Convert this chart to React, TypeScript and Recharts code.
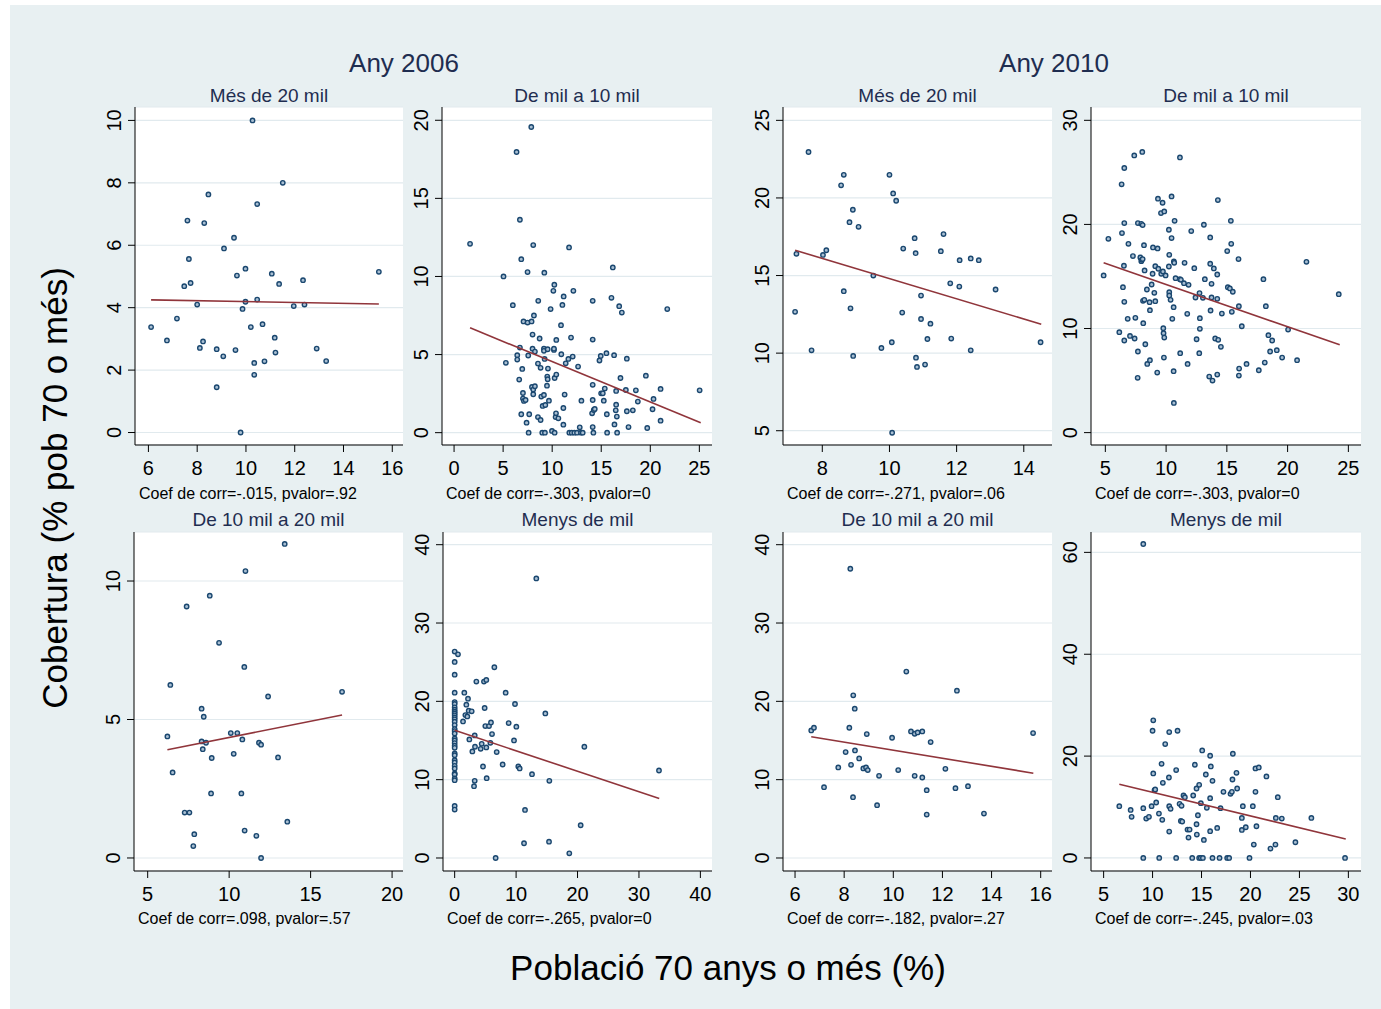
import React from 'react';
import { ScatterChart, Scatter, XAxis, YAxis, CartesianGrid } from 'recharts';

type Pt = [number, number];

// Any 2006 — municipis de més de 20 mil habitants
const pts2006Mes20: Pt[] = [
  [6.11, 3.38], [6.76, 2.95], [7.17, 3.65], [7.47, 4.69], [7.6, 6.79], [7.66, 5.56], [7.73, 4.79],
  [8.0, 4.1], [8.11, 2.71], [8.24, 2.92], [8.29, 6.71], [8.46, 7.63], [8.8, 1.45], [8.8, 2.67],
  [9.07, 2.44], [9.1, 5.9], [9.51, 6.24], [9.57, 2.64], [9.63, 5.03], [9.78, 0], [9.86, 3.96],
  [9.98, 5.25], [9.98, 4.19], [10.2, 3.38], [10.27, 10], [10.34, 2.23], [10.34, 1.85], [10.46, 7.32],
  [10.46, 4.26], [10.68, 3.47], [10.76, 2.28], [11.06, 5.09], [11.18, 3.04], [11.21, 2.56],
  [11.36, 4.76], [11.51, 8.0], [11.96, 4.05], [12.34, 4.88], [12.4, 4.1], [12.9, 2.69], [13.29, 2.29],
  [15.45, 5.15],
];
const fit2006Mes20: Pt[] = [[6.11, 4.25], [15.45, 4.12]];

// Any 2006 — de mil a 10 mil
const pts2006Mil10: Pt[] = [
  [1.63, 12.09], [5.04, 10.0], [5.28, 4.47], [5.99, 8.16], [6.37, 17.97], [6.44, 4.96], [6.44, 4.68],
  [6.64, 3.4], [6.71, 13.63], [6.71, 5.45], [6.85, 11.11], [6.85, 1.18], [6.95, 4.08], [7.02, 2.54],
  [7.02, 2.18], [7.12, 2.03], [7.29, 2.09], [7.08, 7.12], [7.39, 0.64], [7.49, 10.28], [7.49, 7.05],
  [7.56, 4.94], [7.6, 0], [7.66, 1.18], [7.9, 7.12], [7.87, 19.57], [7.94, 2.93], [8.0, 5.38],
  [8.07, 12.01], [8.0, 6.28], [8.07, 2.46], [8.07, 2.76], [8.14, 7.5], [8.24, 2.97], [8.24, 5.19],
  [8.55, 1.0], [8.58, 8.44], [8.55, 4.42], [8.72, 6.03], [8.82, 4.15], [8.82, 0.81], [8.89, 2.31],
  [8.99, 0], [9.03, 1.71], [9.16, 2.41], [9.16, 5.38], [9.16, 5.24], [9.2, 10.24], [9.23, 4.72],
  [9.26, 0], [9.3, 1.77], [9.47, 3.01], [9.54, 5.34], [9.5, 3.59], [9.54, 3.42], [9.57, 4.1],
  [9.67, 2.05], [9.84, 7.91], [9.98, 0.11], [10.12, 9.08], [10.18, 5.3], [10.18, 5.38], [10.22, 9.47],
  [10.25, 0], [10.25, 3.5], [10.35, 1.0], [10.42, 3.72], [10.42, 5.94], [10.39, 1.24], [10.63, 0.92],
  [10.9, 6.88], [10.93, 5.02], [11.04, 8.18], [11.14, 1.58], [11.17, 8.72], [11.14, 0.51], [11.27, 2.44],
  [11.38, 4.44], [11.65, 4.72], [11.72, 11.86], [11.75, 0], [11.92, 6.09], [12.09, 4.87], [11.99, 0],
  [12.16, 9.08], [12.26, 0], [12.53, 0], [12.64, 4.23], [12.81, 0.34], [12.94, 0], [12.98, 2.05],
  [13.11, 0], [14.13, 8.44], [14.13, 5.96], [14.13, 3.06], [14.13, 2.09], [14.07, 1.24], [14.24, 1.45],
  [14.13, 0.36], [14.2, 0], [14.34, 1.52], [14.99, 2.52], [15.16, 2.52], [14.82, 4.62], [14.95, 4.91],
  [15.26, 2.05], [15.36, 2.82], [15.53, 5.09], [15.57, 1.18], [15.6, 0], [16.04, 8.63], [16.18, 10.58],
  [16.31, 4.96], [16.35, 0.53], [16.48, 1.43], [16.52, 2.67], [16.52, 1.79], [16.59, 1.03], [16.62, 0],
  [16.83, 8.1], [16.96, 3.5], [17.1, 7.69], [17.51, 2.73], [17.61, 1.37], [17.61, 4.74], [17.78, 0.36],
  [18.22, 1.43], [18.53, 2.71], [18.73, 1.99], [19.55, 3.65], [19.69, 0.3], [20.23, 1.5], [20.33, 2.16],
  [21.05, 2.8], [21.05, 0.77], [21.73, 7.91], [25.03, 2.71],
];
const fit2006Mil10: Pt[] = [[1.63, 6.71], [25.14, 0.64]];

// Any 2010 — més de 20 mil
const pts2010Mes20: Pt[] = [
  [7.19, 12.66], [7.23, 16.4], [7.59, 22.96], [7.68, 10.18], [8.02, 16.33], [8.12, 16.63], [8.56, 20.81],
  [8.64, 21.49], [8.64, 13.99], [8.81, 18.44], [8.84, 12.89], [8.91, 19.24], [8.92, 9.82], [9.08, 18.14],
  [9.52, 15.0], [9.76, 10.33], [10.0, 21.49], [10.07, 10.7], [10.08, 4.87], [10.11, 20.29], [10.2, 19.82],
  [10.38, 12.61], [10.41, 16.74], [10.75, 17.41], [10.78, 16.44], [10.79, 9.71], [10.82, 9.11],
  [10.94, 13.71], [10.94, 12.2], [11.06, 9.26], [11.13, 10.91], [11.22, 11.9], [11.53, 16.57],
  [11.61, 17.67], [11.81, 14.5], [11.84, 10.94], [12.08, 14.29], [12.09, 15.99], [12.42, 16.1],
  [12.42, 10.18], [12.66, 15.99], [13.16, 14.1], [14.5, 10.7],
];
const fit2010Mes20: Pt[] = [[7.19, 16.63], [14.52, 11.86]];

// Any 2010 — de mil a 10 mil
const pts2010Mil10: Pt[] = [
  [4.86, 15.1], [5.25, 18.62], [6.15, 9.65], [6.34, 23.85], [6.37, 19.17], [6.45, 13.97], [6.53, 16.03],
  [6.56, 25.42], [6.56, 20.13], [6.56, 12.56], [6.56, 8.85], [6.84, 10.93], [6.9, 18.14], [7.03, 9.29],
  [7.27, 16.96], [7.38, 26.63], [7.41, 9.04], [7.47, 11.03], [7.66, 5.26], [7.68, 7.79], [7.68, 20.13],
  [7.88, 16.83], [7.96, 20.06], [7.96, 16.47], [7.99, 16.6], [8.04, 26.96], [8.07, 19.94], [8.07, 16.67],
  [8.1, 12.66], [8.12, 10.51], [8.18, 18.01], [8.21, 12.76], [8.23, 15.58], [8.29, 8.49], [8.42, 13.75],
  [8.45, 6.6], [8.64, 12.53], [8.67, 6.96], [8.67, 11.76], [8.81, 14.23], [8.89, 15.26], [8.92, 17.79],
  [9.03, 13.43], [9.11, 15.99], [9.11, 12.63], [9.27, 5.77], [9.3, 17.69], [9.36, 15.74], [9.33, 22.47],
  [9.58, 21.09], [9.6, 15.26], [9.71, 22.08], [9.74, 15.48], [9.77, 10.03], [9.79, 9.55], [9.82, 7.21],
  [9.85, 21.25], [9.85, 9.13], [9.96, 15.1], [10.23, 19.49], [10.26, 13.49], [10.26, 13.17],
  [10.26, 17.08], [10.23, 15.96], [10.37, 12.76], [10.45, 22.69], [10.45, 18.69], [10.51, 10.93],
  [10.62, 12.05], [10.62, 5.9], [10.64, 16.44], [10.64, 2.85], [10.67, 16.31], [10.7, 20.35],
  [10.78, 14.84], [11.14, 14.74], [11.14, 26.44], [11.22, 14.68], [11.16, 7.63], [11.47, 14.36],
  [11.52, 16.31], [11.74, 11.41], [11.77, 6.6], [11.85, 14.2], [12.07, 19.36], [12.32, 15.8],
  [12.42, 12.98], [12.51, 8.97], [12.73, 7.63], [12.75, 13.4], [12.78, 10.99], [12.78, 9.97],
  [13.03, 12.95], [13.11, 19.97], [13.19, 14.74], [13.55, 5.38], [13.63, 18.75], [13.63, 16.22],
  [13.66, 11.73], [13.74, 14.29], [13.74, 12.98], [13.82, 5.0], [13.93, 15.77], [14.04, 9.04],
  [14.21, 15.19], [14.21, 12.85], [14.21, 5.58], [14.26, 22.34], [14.29, 8.91], [14.51, 8.24],
  [14.59, 11.44], [15.03, 17.44], [15.08, 13.97], [15.25, 13.85], [15.33, 20.35], [15.36, 18.14],
  [15.41, 11.6], [15.49, 13.53], [15.96, 16.67], [15.99, 12.15], [15.99, 5.48], [16.01, 6.15],
  [16.23, 10.22], [16.62, 6.6], [17.63, 5.99], [18.01, 14.74], [18.12, 6.73], [18.21, 12.15],
  [18.42, 9.36], [18.56, 7.79], [18.73, 8.85], [19.11, 7.92], [19.55, 7.21], [20.04, 9.9],
  [20.78, 6.96], [21.55, 16.41], [24.21, 13.3],
];
const fit2010Mil10: Pt[] = [[4.86, 16.31], [24.29, 8.43]];

// Any 2006 — de 10 mil a 20 mil
const pts2006De10a20: Pt[] = [
  [6.21, 4.39], [6.39, 6.25], [6.53, 3.09], [7.27, 1.64], [7.39, 9.08], [7.56, 1.64], [7.8, 0.43],
  [7.86, 0.86], [8.31, 5.39], [8.31, 4.21], [8.38, 3.93], [8.44, 5.1], [8.58, 4.16], [8.81, 9.47],
  [8.89, 2.33], [8.93, 3.61], [9.38, 7.77], [10.1, 4.51], [10.28, 3.76], [10.5, 4.51], [10.75, 2.33],
  [10.81, 4.28], [10.93, 6.9], [10.95, 0.99], [11.0, 10.36], [11.67, 0.8], [11.83, 4.16], [11.96, 4.09],
  [11.96, 0], [12.39, 5.83], [13.0, 3.63], [13.41, 11.34], [13.57, 1.31], [16.93, 6.0],
];
const fit2006De10a20: Pt[] = [[6.21, 3.91], [16.93, 5.16]];

// Any 2006 — menys de mil
const pts2006Menys: Pt[] = [
  [0, 26.35], [0, 25.03], [0, 23.41], [0, 21.11], [0, 19.91], [0, 19.66], [0, 19.23], [0, 18.93],
  [0, 18.68], [0, 18.46], [0, 18.21], [0, 17.95], [0, 17.7], [0, 17.4], [0, 16.97], [0, 16.46],
  [0, 16.2], [0, 15.91], [0, 15.27], [0, 15.01], [0, 14.67], [0, 14.33], [0, 14.07], [0, 13.35],
  [0, 13.13], [0, 12.49], [0, 12.2], [0, 11.77], [0, 11.43], [0, 10.79], [0, 10.66], [0, 10.15],
  [0, 9.94], [0, 6.65], [0, 6.18], [0.54, 26.0],
  [1.36, 17.44], [1.57, 21.11], [1.74, 18.25], [1.9, 19.57], [2.06, 18.08], [2.17, 20.34], [2.28, 18.81],
  [2.39, 15.14], [2.77, 18.72], [2.88, 13.6], [3.15, 9.17], [3.26, 9.85], [3.26, 15.65], [3.31, 14.2],
  [3.53, 22.52], [4.23, 13.94], [4.4, 14.58], [4.61, 11.68], [4.77, 22.52], [4.88, 19.15], [4.99, 16.84],
  [5.15, 22.73], [5.15, 14.12], [5.21, 10.19], [5.59, 16.84], [5.81, 14.71], [5.91, 17.31], [6.08, 15.82],
  [6.46, 24.35], [6.67, 0], [6.84, 13.52], [7.81, 11.94], [8.3, 21.11], [8.79, 17.23], [9.66, 15.01],
  [9.82, 19.66], [10.04, 16.76], [10.36, 11.68], [10.58, 11.43], [11.29, 1.88], [11.45, 6.14],
  [12.59, 10.7], [13.29, 35.69], [14.76, 18.46], [15.36, 2.09], [15.41, 9.85], [18.66, 0.6],
  [20.51, 4.18], [21.11, 14.2], [33.26, 11.17],
];
const fit2006Menys: Pt[] = [[0, 16.3], [33.3, 7.6]];

// Any 2010 — de 10 mil a 20 mil
const pts2010De10a20: Pt[] = [
  [6.66, 16.29], [6.77, 16.63], [7.18, 9.04], [7.76, 11.56], [8.06, 13.52], [8.21, 16.63], [8.25, 36.93],
  [8.28, 11.9], [8.36, 7.76], [8.37, 20.77], [8.43, 19.06], [8.44, 13.73], [8.61, 12.71], [8.78, 11.43],
  [8.89, 11.56], [8.92, 15.82], [8.96, 11.22], [9.34, 6.74], [9.42, 10.49], [9.95, 15.35], [10.2, 11.22],
  [10.53, 23.8], [10.72, 16.16], [10.87, 15.86], [10.87, 10.49], [10.99, 16.03], [11.18, 16.16],
  [11.18, 10.28], [11.36, 8.66], [11.36, 5.54], [11.52, 14.8], [12.12, 11.39], [12.53, 8.91],
  [12.59, 21.36], [13.04, 9.17], [13.69, 5.67], [15.69, 15.95],
];
const fit2010De10a20: Pt[] = [[6.66, 15.48], [15.7, 10.83]];

// Any 2010 — menys de mil
const pts2010Menys: Pt[] = [
  [6.6, 10.16], [7.76, 9.44], [7.86, 8.07], [9.05, 61.64], [9.05, 9.77], [9.05, 0], [9.35, 7.74],
  [9.63, 8.07], [9.9, 10.16], [10.0, 24.98], [10.07, 27.02], [10.07, 16.59], [10.2, 13.31], [10.27, 13.44],
  [10.37, 10.89], [10.65, 8.72], [10.68, 0], [10.92, 18.49], [10.99, 7.48], [11.05, 14.75], [11.29, 22.36],
  [11.67, 15.8], [11.7, 24.72], [11.7, 10.16], [11.7, 5.18], [11.84, 9.64], [12.41, 17.25], [12.41, 0],
  [12.55, 24.98], [12.76, 10.62], [12.89, 7.28], [12.96, 10.23], [13.03, 7.15], [13.16, 12.26],
  [13.3, 11.93], [13.57, 5.57], [13.67, 4.0], [13.78, 5.57], [14.05, 0], [14.15, 12.26], [14.32, 18.3],
  [14.49, 6.62], [14.49, 13.64], [14.52, 4.59], [14.63, 8.39], [14.76, 14.36], [14.76, 0], [14.93, 10.75],
  [14.93, 0], [15.07, 21.11], [15.14, 0], [15.24, 3.54], [15.44, 16.39], [15.54, 9.84], [15.88, 5.25],
  [15.88, 20.07], [15.88, 11.74], [15.95, 17.97], [16.12, 15.15], [16.12, 0], [16.6, 5.9], [16.84, 0],
  [16.94, 9.77], [17.24, 12.98], [17.62, 0], [17.82, 0], [17.96, 12.59], [18.1, 12.98], [18.16, 15.41],
  [18.2, 20.46], [18.57, 16.72], [18.64, 13.64], [19.12, 7.87], [19.12, 5.51], [19.22, 10.16],
  [19.52, 6.03], [19.9, 0], [20.24, 10.16], [20.34, 2.62], [20.51, 17.57], [20.51, 12.98], [20.61, 6.23],
  [20.85, 17.77], [21.63, 16.0], [22.04, 1.84], [22.55, 2.62], [22.59, 7.87], [22.79, 11.93], [23.2, 7.74],
  [24.59, 3.08], [26.22, 7.87], [29.66, 0],
];
const fit2010Menys: Pt[] = [[6.6, 14.49], [29.73, 3.74]];

const FONT = "'Liberation Sans', Arial, Helvetica, sans-serif";
const NAVY = '#1a476f';
const MAROON = '#90353b';
const TITLE = '#1f2d50';
const BG = '#e8f0f2';

interface Panel {
  title: string;
  note: string;
  pts: Pt[];
  fit: Pt[];
  xTicks: number[];
  yTicks: number[];
  xDomain: [number, number];
  yDomain: [number, number];
  left: number;
  top: number;
  width: number;
  height: number;
}

const panels: Panel[] = [
  { title: 'Més de 20 mil', note: 'Coef de corr=-.015, pvalor=.92', pts: pts2006Mes20, fit: fit2006Mes20,
    xTicks: [6, 8, 10, 12, 14, 16], yTicks: [0, 2, 4, 6, 8, 10], xDomain: [5.45, 16.44], yDomain: [-0.4, 10.43],
    left: 135, top: 107, width: 268, height: 338 },
  { title: 'De mil a 10 mil', note: 'Coef de corr=-.303, pvalor=0', pts: pts2006Mil10, fit: fit2006Mil10,
    xTicks: [0, 5, 10, 15, 20, 25], yTicks: [0, 5, 10, 15, 20], xDomain: [-1.23, 26.29], yDomain: [-0.79, 20.85],
    left: 442, top: 107, width: 270, height: 338 },
  { title: 'Més de 20 mil', note: 'Coef de corr=-.271, pvalor=.06', pts: pts2010Mes20, fit: fit2010Mes20,
    xTicks: [8, 10, 12, 14], yTicks: [5, 10, 15, 20, 25], xDomain: [6.83, 14.84], yDomain: [4.08, 25.86],
    left: 783, top: 107, width: 269, height: 338 },
  { title: 'De mil a 10 mil', note: 'Coef de corr=-.303, pvalor=0', pts: pts2010Mil10, fit: fit2010Mil10,
    xTicks: [5, 10, 15, 20, 25], yTicks: [0, 10, 20, 30], xDomain: [3.82, 26.04], yDomain: [-1.19, 31.28],
    left: 1091, top: 107, width: 270, height: 338 },
  { title: 'De 10 mil a 20 mil', note: 'Coef de corr=.098, pvalor=.57', pts: pts2006De10a20, fit: fit2006De10a20,
    xTicks: [5, 10, 15, 20], yTicks: [0, 5, 10], xDomain: [4.16, 20.67], yDomain: [-0.47, 11.77],
    left: 134, top: 532, width: 269, height: 339 },
  { title: 'Menys de mil', note: 'Coef de corr=-.265, pvalor=0', pts: pts2006Menys, fit: fit2006Menys,
    xTicks: [0, 10, 20, 30, 40], yTicks: [0, 10, 20, 30, 40], xDomain: [-1.9, 41.89], yDomain: [-1.66, 41.62],
    left: 443, top: 532, width: 269, height: 339 },
  { title: 'De 10 mil a 20 mil', note: 'Coef de corr=-.182, pvalor=.27', pts: pts2010De10a20, fit: fit2010De10a20,
    xTicks: [6, 8, 10, 12, 14, 16], yTicks: [0, 10, 20, 30, 40], xDomain: [5.51, 16.46], yDomain: [-1.66, 41.62],
    left: 783, top: 532, width: 269, height: 339 },
  { title: 'Menys de mil', note: 'Coef de corr=-.245, pvalor=.03', pts: pts2010Menys, fit: fit2010Menys,
    xTicks: [5, 10, 15, 20, 25, 30], yTicks: [0, 20, 40, 60], xDomain: [3.71, 31.29], yDomain: [-2.56, 64.0],
    left: 1091, top: 532, width: 270, height: 339 },
];

const YW = 50;
const XH = 45;
const PAD = 10;

const XTick = (props: any) => {
  const { x, y, payload } = props;
  return (
    <text x={x} y={y + 21} textAnchor="middle" fontSize={20} fill="#000" fontFamily={FONT}>
      {payload.value}
    </text>
  );
};

const YTick = (props: any) => {
  const { x, y, payload } = props;
  return (
    <text x={x} y={y} transform={`rotate(-90 ${x} ${y})`} textAnchor="middle" fontSize={20} fill="#000" fontFamily={FONT}>
      {payload.value}
    </text>
  );
};

const Marker = (props: any) => {
  const { cx, cy } = props;
  if (cx == null || cy == null) return <g />;
  return <circle cx={cx} cy={cy} r={2.2} fill="#a9bfd3" stroke={NAVY} strokeWidth={1.4} />;
};

const PanelChart: React.FC<{ p: Panel }> = ({ p }) => {
  const data = p.pts.map(([x, y]) => ({ x, y }));
  const fit = p.fit.map(([x, y]) => ({ x, y }));
  return (
    <div style={{ position: 'absolute', left: p.left - YW, top: p.top - PAD }}>
      <ScatterChart
        width={p.width + YW + PAD}
        height={p.height + PAD + XH}
        margin={{ top: PAD, right: PAD, left: 0, bottom: 0 }}
      >
        <CartesianGrid horizontal vertical={false} fill="#ffffff" stroke="#e1eaee" strokeWidth={1.2} />
        <XAxis
          type="number"
          dataKey="x"
          domain={p.xDomain}
          ticks={p.xTicks}
          allowDataOverflow
          height={XH}
          tickSize={7}
          tickMargin={2}
          stroke="#000"
          tickLine={{ stroke: '#000' }}
          tick={<XTick />}
          interval={0}
        />
        <YAxis
          type="number"
          dataKey="y"
          domain={p.yDomain}
          ticks={p.yTicks}
          allowDataOverflow
          width={YW}
          tickSize={7}
          tickMargin={7}
          stroke="#000"
          tickLine={{ stroke: '#000' }}
          tick={<YTick />}
          interval={0}
        />
        <Scatter data={data} shape={<Marker />} isAnimationActive={false} />
        <Scatter
          data={fit}
          line={{ stroke: MAROON, strokeWidth: 1.6 }}
          shape={() => <g />}
          isAnimationActive={false}
        />
      </ScatterChart>
    </div>
  );
};

const App: React.FC = () => {
  return (
    <div style={{ position: 'absolute', left: 0, top: 0, width: 1381, height: 1009, background: '#ffffff', overflow: 'hidden' }}>
      <div style={{ position: 'absolute', left: 10, top: 5, width: 1371, height: 1004, background: BG }} />
      {panels.map((p, i) => (
        <PanelChart key={i} p={p} />
      ))}
      <svg
        width={1381}
        height={1009}
        style={{ position: 'absolute', left: 0, top: 0, pointerEvents: 'none' }}
        fontFamily={FONT}
      >
        <text x={404} y={72} textAnchor="middle" fontSize={26} fill={TITLE}>Any 2006</text>
        <text x={1054} y={72} textAnchor="middle" fontSize={26} fill={TITLE}>Any 2010</text>
        {panels.map((p, i) => (
          <g key={i}>
            <text x={p.left + p.width / 2} y={p.top < 300 ? 101.5 : 525.5} textAnchor="middle" fontSize={19} fill={TITLE}>
              {p.title}
            </text>
            <text x={p.left + 4} y={p.top < 300 ? 499 : 924} fontSize={16} fill="#000">
              {p.note}
            </text>
          </g>
        ))}
        <text x={67} y={488} transform="rotate(-90 67 488)" textAnchor="middle" fontSize={35} fill="#000">
          Cobertura (% pob 70 o més)
        </text>
        <text x={728} y={980} textAnchor="middle" fontSize={35} fill="#000">
          Població 70 anys o més (%)
        </text>
      </svg>
    </div>
  );
};

export default App;
